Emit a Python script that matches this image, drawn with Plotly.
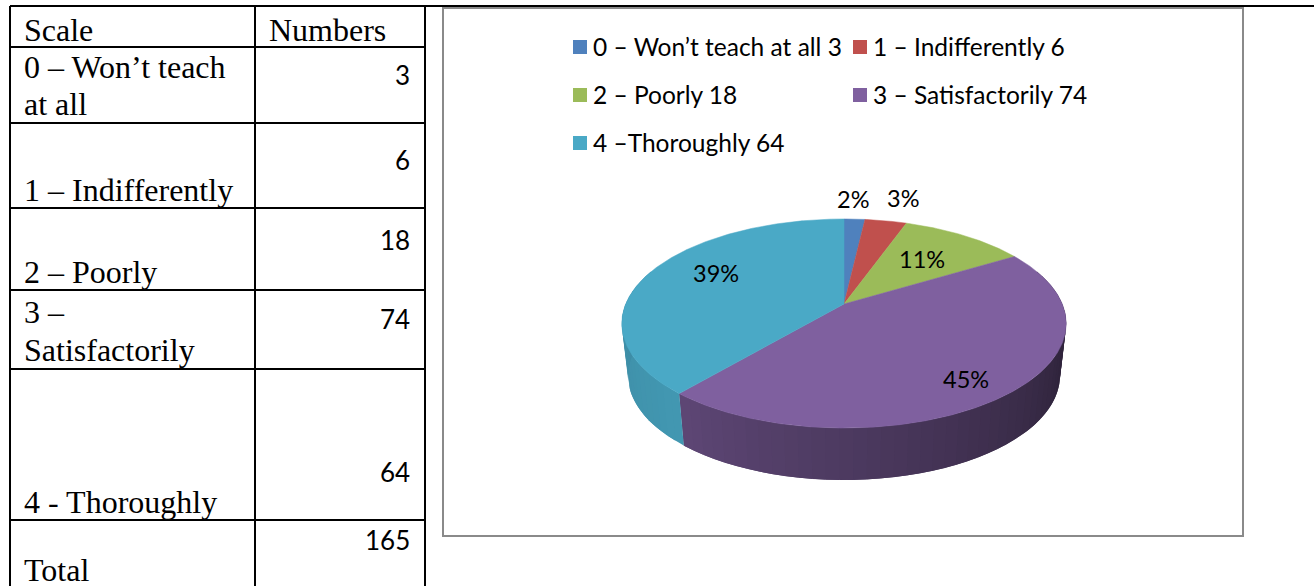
import numpy as np
import plotly.graph_objects as go

# ---- data ----
scale_lines = [["0 – Won’t teach", "at all"], ["1 – Indifferently"], ["2 – Poorly"],
               ["3 –", "Satisfactorily"], ["4 - Thoroughly"], ["Total"]]
numbers = [3, 6, 18, 74, 64, 165]
categories = ["0 – Won’t teach at all 3", "1 – Indifferently 6", "2 – Poorly 18",
              "3 – Satisfactorily 74", "4 –Thoroughly 64"]
values = [3, 6, 18, 74, 64]
pct_labels = ["2%", "3%", "11%", "45%", "39%"]
colors = ["#4f81bd", "#c0504d", "#9bbb59", "#7f609f", "#4aa9c6"]

# ---- layout constants (pixel space of the page) ----
W, H = 1314, 586
CX, CY, RX, RY, K = 844, 304, 218.3, 100.9, 0.1866
DEPTH, SHRINK = 52, 0.972
SERIF, SANS = "Liberation Serif", "Lato"


def project(theta):
    """Clockwise angle from 12 o'clock on the tilted disc -> page position."""
    u, v = np.sin(theta), np.cos(theta)
    d = 1 + K * v
    return CX + RX * u / d, CY - RY * v / d


def project_low(theta):
    x, y = project(theta)
    return CX + (x - CX) * SHRINK, y + DEPTH


def side_factor(i, deg):
    if i == 3:   # purple rim, darker to the right
        return 0.74 - 0.36 * np.clip((220 - deg) / 110, 0, 1)
    return 0.84 + 0.06 * np.clip((270 - deg) / 50, 0, 1)


def shade(hex_c, f):
    r, g, b = (int(hex_c[j:j + 2], 16) for j in (1, 3, 5))
    return f"rgb({int(r * f)},{int(g * f)},{int(b * f)})"


fig = go.Figure()
total = sum(values)
edges = np.cumsum([0] + values) / total * 2 * np.pi

# rim of the pie: overlapping strips painted in sequence
for i in (3, 4):
    a0, a1 = np.degrees(edges[i]), np.degrees(edges[i + 1])
    a0, a1 = max(a0, 70), min(a1, 290)
    steps = np.arange(a0, a1 + 3, 3.0)
    steps[-1] = a1
    for s0, s1 in zip(steps[:-1], steps[1:]):
        t = np.radians(np.linspace(s0, min(s1 + 3, a1), 4))
        xt, yt = project(t)
        xb, yb = project_low(t[::-1])
        col = shade(colors[i], side_factor(i, (s0 + s1) / 2))
        fig.add_trace(go.Scatter(x=np.r_[xt, xb], y=np.r_[yt, yb], mode="lines", fill="toself",
                                 fillcolor=col, line=dict(color=col, width=0),
                                 hoverinfo="skip", showlegend=False))

# top face
for i, name in enumerate(categories):
    t = np.linspace(edges[i], edges[i + 1], max(6, int(values[i] * 4)))
    x, y = project(t)
    fig.add_trace(go.Scatter(x=np.r_[CX, x, CX], y=np.r_[CY, y, CY], mode="lines", fill="toself",
                             fillcolor=colors[i], line=dict(color=colors[i], width=0.5),
                             name=name, hoverinfo="name", showlegend=False))

annotations = []


def text(x, y, s, size, font, anchor="left", color="black"):
    annotations.append(dict(x=x, y=y, text=s, showarrow=False, xanchor=anchor, yanchor="middle",
                            xref="x", yref="y", borderpad=0, borderwidth=0,
                            font=dict(family=font, size=size, color=color)))


# legend
legend_pos = [(573, 47), (853, 47), (573, 95), (853, 95), (573, 143)]
fig.add_trace(go.Scatter(x=[p[0] + 7 for p in legend_pos], y=[p[1] for p in legend_pos], mode="markers",
                         marker=dict(symbol="square", size=14, color=colors, line=dict(width=0)),
                         hoverinfo="skip", showlegend=False))
for (lx, ly), name in zip(legend_pos, categories):
    text(lx + 20, ly - 0.5, name, 24.5, SANS)

# percentage labels
pct_pos = [(853, 199), (903, 198), (922, 259), (966, 379), (716, 273)]
for (px, py), s in zip(pct_pos, pct_labels):
    text(px, py, s, 23.5, SANS, "center")

# table text
row_lines = [[(67, 0), (104, 1)], [(190, 0)], [(272, 0)], [(312, 0), (350, 1)], [(502, 0)], [(570, 0)]]
num_y = [75, 160, 240, 319, 472, 540]
text(24, 30, "Scale", 32, SERIF)
text(269, 30, "Numbers", 32, SERIF)
for lines, ys, n, ny in zip(scale_lines, row_lines, numbers, num_y):
    for y, idx in ys:
        text(24, y, lines[idx], 32, SERIF)
    text(410, ny, str(n), 26, SANS, "right")

# table rules and chart frame
shapes = []
for yy in (6, 47, 123, 208, 290, 369, 520):
    shapes.append(dict(type="line", x0=10, x1=426, y0=yy, y1=yy, line=dict(color="black", width=2)))
shapes.append(dict(type="line", x0=426, x1=W, y0=6, y1=6, line=dict(color="black", width=2)))
for xx in (10, 255, 425):
    shapes.append(dict(type="line", x0=xx, x1=xx, y0=6, y1=H, line=dict(color="black", width=2)))
shapes.append(dict(type="rect", x0=443, x1=1243, y0=8, y1=536, line=dict(color="#8a8a8a", width=2),
                   fillcolor="rgba(0,0,0,0)"))

fig.update_layout(
    width=W, height=H, margin=dict(l=0, r=0, t=0, b=0), autosize=False,
    paper_bgcolor="white", plot_bgcolor="white", showlegend=False,
    xaxis=dict(range=[0, W], visible=False, fixedrange=True),
    yaxis=dict(range=[H, 0], visible=False, fixedrange=True),
    shapes=shapes, annotations=annotations,
)
fig.write_html("out.html", config=dict(displayModeBar=False),
               post_script="document.body.style.margin='0';document.body.style.overflow='hidden';")
